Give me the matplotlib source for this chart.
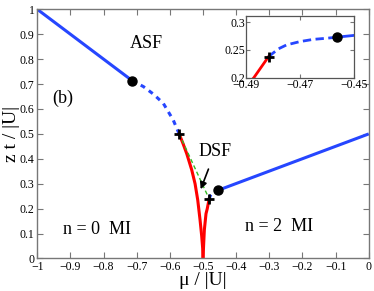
import matplotlib
matplotlib.use("Agg")
import matplotlib.pyplot as plt
import numpy as np

plt.rcParams['font.family'] = ['Liberation Serif', 'DejaVu Serif']
plt.rcParams['mathtext.fontset'] = 'stix'

# Data
asf_left_x = [-1.0, -0.714]
asf_left_y = [1.0, 0.714]
asf_dash_x = [-0.714, -0.680, -0.650, -0.620, -0.590, -0.572]
asf_dash_y = [0.714, 0.690, 0.660, 0.623, 0.556, 0.500]
red_left_x = [-0.572, -0.560, -0.549, -0.534, -0.524, -0.516, -0.509, -0.504, -0.501, -0.500]
red_left_y = [0.500, 0.460, 0.420, 0.355, 0.300, 0.235, 0.155, 0.090, 0.040, 0.000]
red_right_x = [-0.500, -0.498, -0.496, -0.491, -0.4872, -0.4817]
red_right_y = [0.000, 0.060, 0.115, 0.180, 0.200, 0.238]
green_x = [-0.572, -0.487]
green_y = [0.500, 0.255]
dsf_dash_x = [-0.4817, -0.478, -0.475, -0.470, -0.465, -0.460, -0.4561]
dsf_dash_y = [0.238, 0.252, 0.259, 0.265, 0.269, 0.271, 0.273]
asf_right_x = [-0.4561, 0.0]
asf_right_y = [0.273, 0.500]
dot_x = [-0.714, -0.4561]
dot_y = [0.714, 0.273]
plus_x = [-0.572, -0.4817]
plus_y = [0.500, 0.238]

xticks = [-1, -0.9, -0.8, -0.7, -0.6, -0.5, -0.4, -0.3, -0.2, -0.1, 0]
xticklabels = ['\u22121', '\u22120.9', '\u22120.8', '\u22120.7', '\u22120.6', '\u22120.5',
               '\u22120.4', '\u22120.3', '\u22120.2', '\u22120.1', '0']
yticks = [0, 0.1, 0.2, 0.3, 0.4, 0.5, 0.6, 0.7, 0.8, 0.9, 1]
yticklabels = ['0', '0.1', '0.2', '0.3', '0.4', '0.5', '0.6', '0.7', '0.8', '0.9', '1']
in_xticks = [-0.49, -0.47, -0.45]
in_xticklabels = ['\u22120.49', '\u22120.47', '\u22120.45']
in_yticks = [0.2, 0.25, 0.3]
in_yticklabels = ['0.2', '0.25', '0.3']

BLUE = '#2646ff'
RED = '#ff0000'
GREEN = '#33bb22'
FRAME = '#777777'

fig = plt.figure(figsize=(3.74, 2.91), dpi=100)
ax = fig.add_axes([0.0997, 0.1117, 0.8863, 0.8563])

def draw(a, lw=2.2, green=True, dash=(0, (2.3, 1.8))):
    a.plot(asf_left_x, asf_left_y, color=BLUE, lw=lw, solid_capstyle='butt')
    a.plot(asf_dash_x, asf_dash_y, color=BLUE, lw=lw, ls=dash)
    a.plot(red_left_x, red_left_y, color=RED, lw=lw)
    a.plot(red_right_x, red_right_y, color=RED, lw=lw)
    if green:
        a.plot(green_x, green_y, color=GREEN, lw=1.0, ls=(0, (3, 2)))
    a.plot(dsf_dash_x, dsf_dash_y, color=BLUE, lw=lw, ls=dash)
    a.plot(asf_right_x, asf_right_y, color=BLUE, lw=lw, solid_capstyle='butt')
    a.plot(dot_x, dot_y, 'o', color='black', ms=6.5, zorder=5)
    a.plot(plus_x, plus_y, '+', color='black', ms=7, mew=2, zorder=5)

draw(ax, dash=(0, (1.6, 1.6)))
ax.set_xlim(-1, 0)
ax.set_ylim(0, 1)
ax.set_xticks(xticks)
ax.set_xticklabels(xticklabels)
ax.set_yticks(yticks)
ax.set_yticklabels(yticklabels)
ax.tick_params(direction='in', top=True, right=True, length=4, width=0.8,
               labelsize=8.5, color=FRAME, pad=2)
for s in ax.spines.values():
    s.set_color(FRAME)
    s.set_linewidth(1.0)
ax.set_xlabel('\u03bc / |U|', fontsize=14, labelpad=-1)
ax.set_ylabel('z t / |U|', fontsize=14, labelpad=0)

ax.text(-0.670, 0.864, 'ASF', fontsize=13, ha='center', va='center')
ax.text(-0.922, 0.643, '(b)', fontsize=13, ha='center', va='center')
ax.text(-0.819, 0.117, 'n = 0  MI', fontsize=13, ha='center', va='center')
ax.text(-0.270, 0.128, 'n = 2  MI', fontsize=13, ha='center', va='center')
ax.annotate('DSF', xy=(-0.507, 0.278), xytext=(-0.463, 0.430), fontsize=13,
            ha='center', va='center',
            arrowprops=dict(arrowstyle='-|>', color='black', lw=1.2,
                            mutation_scale=10, shrinkA=5, shrinkB=0))

ins = fig.add_axes([0.6586, 0.733, 0.2871, 0.212])
draw(ins, lw=2.0, green=False, dash=(0, (3.0, 1.6)))
ins.set_xlim(-0.49, -0.45)
ins.set_ylim(0.2, 0.311)
ins.set_xticks(in_xticks)
ins.set_xticklabels(in_xticklabels)
ins.set_yticks(in_yticks)
ins.set_yticklabels(in_yticklabels)
ins.tick_params(direction='in', top=True, right=True, length=3, width=0.8,
                labelsize=8.5, color=FRAME, pad=1)
for s in ins.spines.values():
    s.set_color('#555555')
    s.set_linewidth(0.9)

fig.savefig('out.png', dpi=100)
